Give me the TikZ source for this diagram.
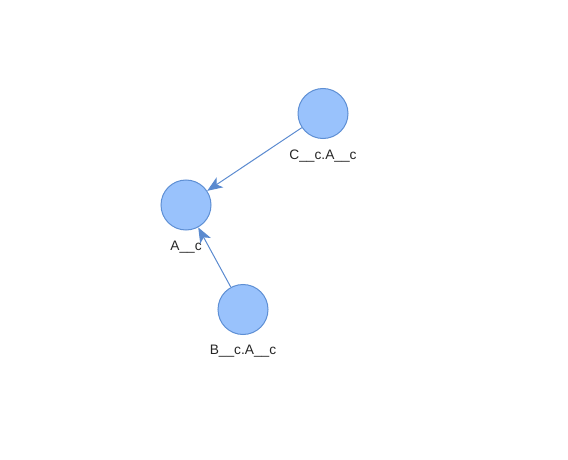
\documentclass[tikz,border=0pt]{standalone}
\usepackage{fontspec}
\setmainfont{Liberation Sans}
\usetikzlibrary{arrows.meta}
\definecolor{nodefill}{HTML}{99C2FC}
\definecolor{nodeline}{HTML}{5E8FD4}
\definecolor{edgecol}{HTML}{5A8ACF}
\begin{document}
\begin{tikzpicture}[x=0.75pt,y=-0.75pt,
  vertex/.style={circle,draw=nodeline,fill=nodefill,line width=0.75pt,minimum size=37.5pt,inner sep=0pt},
  lbl/.style={font=\fontsize{10.3pt}{12pt}\selectfont,text=black!85,inner sep=0pt},
  edge/.style={draw=edgecol,line width=0.75pt,-{Stealth[length=11.5pt,width=9pt,inset=3pt]}}]
\useasboundingbox (0,0) rectangle (568,460);
\node[vertex] (A) at (186,205) {};
\node[vertex] (C) at (323,113.5) {};
\node[vertex] (B) at (243,309.5) {};
\node[lbl] (Al) at (186,247) {A\_\_c};
\node[lbl] (Cl) at (323,156) {C\_\_c.A\_\_c};
\node[lbl] (Bl) at (243,351.5) {B\_\_c.A\_\_c};
\draw[edge] (C) -- (A);
\draw[edge] (B) -- (A);
\end{tikzpicture}
\end{document}
